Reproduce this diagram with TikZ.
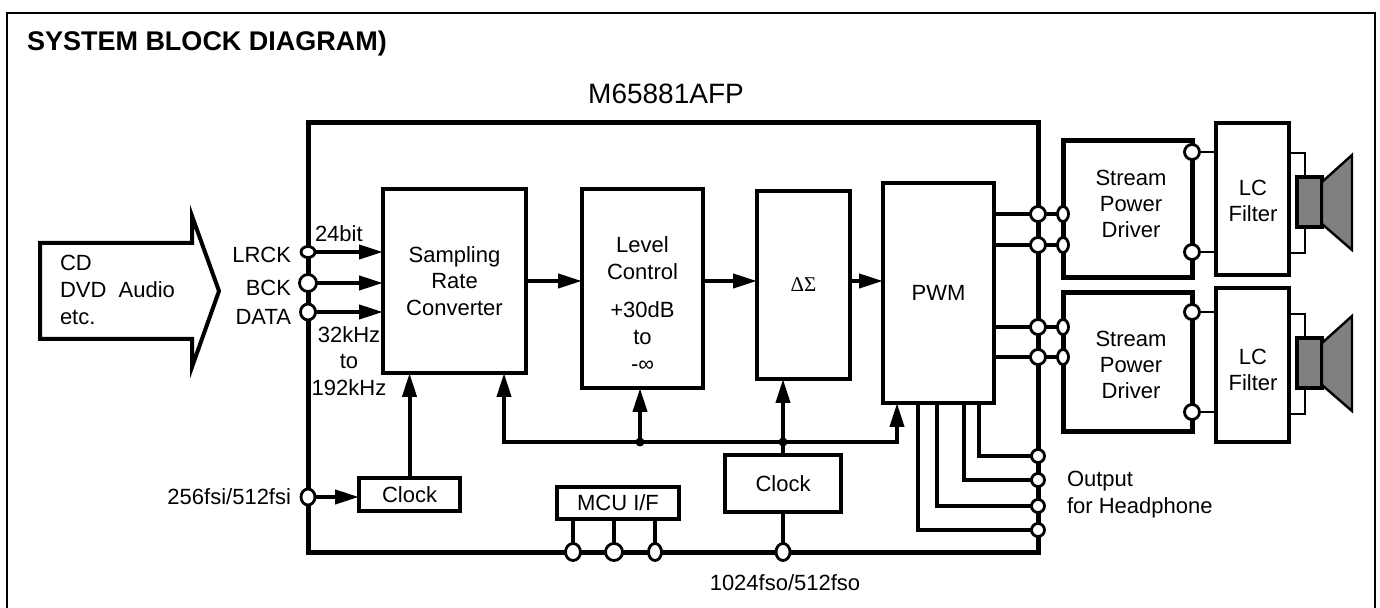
\documentclass[tikz,border=0pt]{standalone}
\usepackage{fontspec}
\setmainfont{Liberation Sans}
\newfontfamily\greekserif{Liberation Serif}
\usetikzlibrary{arrows.meta,shapes.geometric,calc}
\definecolor{spk}{RGB}{128,128,128}
\begin{document}
\begin{tikzpicture}[x=0.5pt,y=-0.5pt,
 every node/.style={inner sep=0pt,outer sep=0pt},
 txt/.style={font=\fontsize{11}{13.2}\selectfont,align=center},
 blk/.style={draw,line width=2pt,txt},
 thickblk/.style={draw,line width=2.5pt,txt},
 lcblk/.style={draw,line width=1.6pt,txt},
 term/.style={ellipse,draw,fill=white,line width=1.4pt,minimum width=7.5pt,minimum height=7.5pt},
 termN/.style={term,minimum width=5.5pt,minimum height=7.5pt},
 wire/.style={line width=2pt},
 hwire/.style={line width=1.8pt},
 twire/.style={line width=1.2pt},
 tip/.style={},
 arr/.style={wire,-{Triangle[length=12pt,width=7pt]}},
 jdot/.style={circle,fill=black,minimum size=4.5pt},
]
\useasboundingbox (0,0) rectangle (1380,608);

% outer frame
\draw[line width=1pt] (7,608) -- (7,13) -- (1375,13) -- (1375,608);

% titles
\node[anchor=west,font=\bfseries\fontsize{13.5}{16}\selectfont] (title) at (27,44) {SYSTEM BLOCK DIAGRAM)};
\node[font=\fontsize{14}{16}\selectfont] (chipname) at (666,94) {M65881AFP};

% chip outline
\node[draw,line width=2.5pt,minimum width=365pt,minimum height=214.5pt] (chip) at (673,337.5) {};

% input arrow
\draw[line width=2pt,line join=miter] (40,243) -- (192,243) -- (192,216) -- (219,291) -- (192,367) -- (192,339) -- (40,339) -- cycle;
\node[txt,anchor=west] (cd) at (60,263) {CD};
\node[txt,anchor=west] (dvd) at (60,290) {DVD\ \ Audio};
\node[txt,anchor=west] (etc) at (60,317) {etc.};

% input labels
\node[txt,anchor=east] (lrck) at (291,255) {LRCK};
\node[txt,anchor=east] (bck) at (291,288) {BCK};
\node[txt,anchor=east] (data) at (291,317) {DATA};
\node[txt,anchor=west] (b24) at (315,234) {24bit};
\node[txt] (khz) at (349,361) {32kHz\\to\\192kHz};
\node[txt,anchor=east] (fsi) at (291,497) {256fsi/512fsi};

% blocks
\node[blk,minimum width=71.5pt,minimum height=92pt] (src) at (454.5,281) {Sampling\\Rate\\Converter};
\node[blk,minimum width=60.5pt,minimum height=99.5pt] (lvl) at (642.5,288.5) {};
\node[txt] (lvlA) at (642.5,258) {Level\\Control};
\node[txt,font=\fontsize{11}{13.5}\selectfont] (lvlB) at (642.5,337) {+30dB\\to\\-∞};
\node[blk,minimum width=46.5pt,minimum height=94pt] (ds) at (803.5,285) {\greekserif\fontsize{10.5}{12}\selectfont ΔΣ};
\node[blk,minimum width=55.5pt,minimum height=110pt] (pwm) at (938.5,293) {PWM};
\node[blk,minimum width=50.5pt,minimum height=16.5pt] (clk1) at (409.5,494.5) {Clock};
\node[blk,minimum width=61pt,minimum height=16pt] (mcu) at (618,503) {MCU I/F};
\node[blk,minimum width=58pt,minimum height=28.5pt] (clk2) at (783,483.5) {Clock};

% drivers and filters
\node[thickblk,minimum width=64.5pt,minimum height=68.5pt] (drv1) at (1127.5,209.5) {};
\node[txt] (drv1t) at (1131,204) {Stream\\Power\\Driver};
\node[thickblk,minimum width=64.5pt,minimum height=69.5pt] (drv2) at (1127.5,362.5) {};
\node[txt] (drv2t) at (1131,365) {Stream\\Power\\Driver};
\node[lcblk,minimum width=36.5pt,minimum height=76pt] (lc1) at (1252.5,199) {};
\node[txt] (lc1t) at (1253,201) {LC\\Filter};
\node[lcblk,minimum width=36.5pt,minimum height=77pt] (lc2) at (1252.5,365) {};
\node[txt] (lc2t) at (1253,370) {LC\\Filter};

% speakers
\coordinate (s1t) at (1289,153);
\coordinate (s1b) at (1289,253);
\draw[twire] (s1t) -| (1305,177);
\draw[twire] (s1b) -| (1305,227);
\draw[line width=1.8pt,fill=spk] (1297,177) rectangle (1322,227);
\draw[line width=1.2pt,fill=spk,line join=miter] (1322,182) -- (1352,155) -- (1352,250) -- (1322,224) -- cycle;
\coordinate (s2t) at (1289,314);
\coordinate (s2b) at (1289,414);
\draw[twire] (s2t) -| (1305,338);
\draw[twire] (s2b) -| (1305,388);
\draw[line width=1.8pt,fill=spk] (1297,338) rectangle (1322,388);
\draw[line width=1.2pt,fill=spk,line join=miter] (1322,343) -- (1352,316) -- (1352,411) -- (1322,385) -- cycle;

% terminals
\node[term,minimum width=7pt,minimum height=5.5pt] (pL) at (308,252) {};
\node[term,minimum width=8.5pt,minimum height=8.5pt] (pB) at (308,283) {};
\node[term,minimum width=7.5pt,minimum height=8pt] (pD) at (308,312) {};
\node[term,minimum width=7pt,minimum height=8pt] (pF) at (308,497) {};
\node[term] (pO1) at (1038,214) {};
\node[term] (pO2) at (1038,245) {};
\node[term] (pO3) at (1038,327) {};
\node[term] (pO4) at (1038,357) {};
\node[termN] (pI1) at (1063,214) {};
\node[termN] (pI2) at (1063,245) {};
\node[termN] (pI3) at (1063,327) {};
\node[termN] (pI4) at (1063,357) {};
\node[term] (pR1) at (1192,152) {};
\node[term] (pR2) at (1192,252) {};
\node[term] (pR3) at (1192,312) {};
\node[term] (pR4) at (1192,412) {};
\node[term,minimum width=6.5pt,minimum height=6.5pt] (pH1) at (1038,456) {};
\node[term,minimum width=6.5pt,minimum height=6.5pt] (pH2) at (1038,480) {};
\node[term,minimum width=6.5pt,minimum height=6.5pt] (pH3) at (1038,506) {};
\node[term,minimum width=6.5pt,minimum height=6.5pt] (pH4) at (1038,530) {};
\node[term,minimum width=7.5pt,minimum height=8.5pt] (pM1) at (573,552) {};
\node[term,minimum width=8.5pt,minimum height=8.5pt] (pM2) at (614,552) {};
\node[term,minimum width=6.5pt,minimum height=8.5pt] (pM3) at (655,552) {};
\node[term,minimum width=7pt,minimum height=8.5pt] (pC) at (783,552) {};

% input connections
\draw[arr] (pL) -- (pL -| src.west);
\draw[arr] (pB) -- (pB -| src.west);
\draw[arr] (pD) -- (pD -| src.west);
\draw[arr] (pF) -- (pF -| clk1.west);
\draw[arr] (clk1.north) -- (clk1.north |- src.south);

% signal chain
\draw[arr] (src.east) -- (src.east -| lvl.west);
\draw[arr] (lvl.east |- src.east) -- (ds.west |- src.east);
\draw[arr] (ds.east |- src.east) -- (pwm.west |- src.east);

% clock bus
\coordinate (bA) at (504,442);
\coordinate (bB) at (897,442);
\node[jdot] (dL) at (640,442) {};
\node[jdot] (dD) at (783,442) {};
\draw[wire,{Triangle[length=12pt,width=7pt]}-{Triangle[length=12pt,width=7pt]}] (bA |- src.south) -- (bA) -- (bB) -- (bB |- pwm.south);
\draw[arr] (dL.center) -- (dL.center |- lvl.south);
\draw[arr] (dD.center) -- (dD.center |- ds.south);
\draw[wire] (clk2.north) -- (dD.center);
\draw[wire] (clk2.south) -- (pC);

% MCU pins
\draw[wire] (pM1 |- mcu.south) -- (pM1);
\draw[wire] (pM2 |- mcu.south) -- (pM2);
\draw[wire] (pM3 |- mcu.south) -- (pM3);

% PWM outputs to drivers
\foreach \i in {1,2,3,4}{
  \draw[wire] (pwm.east |- pO\i) -- (pO\i);
  \draw[wire] (pO\i) -- (pI\i);
}
\foreach \i/\l in {1/lc1,2/lc1,3/lc2,4/lc2}{
  \draw[twire] (pR\i) -- (pR\i -| \l.west);
}

% headphone outputs
\coordinate (h1) at (979,403);
\coordinate (h2) at (964,403);
\coordinate (h3) at (937,403);
\coordinate (h4) at (918,403);
\draw[hwire] (h1) |- (pH1);
\draw[hwire] (h2) |- (pH2);
\draw[hwire] (h3) |- (pH3);
\draw[hwire] (h4) |- (pH4);
\node[txt,anchor=west] (outA) at (1067,481) {Output};
\node[txt,anchor=west] (outB) at (1067,508) {for Headphone};

\node[txt] (fso) at (785,583) {1024fso/512fso};
\end{tikzpicture}
\end{document}
